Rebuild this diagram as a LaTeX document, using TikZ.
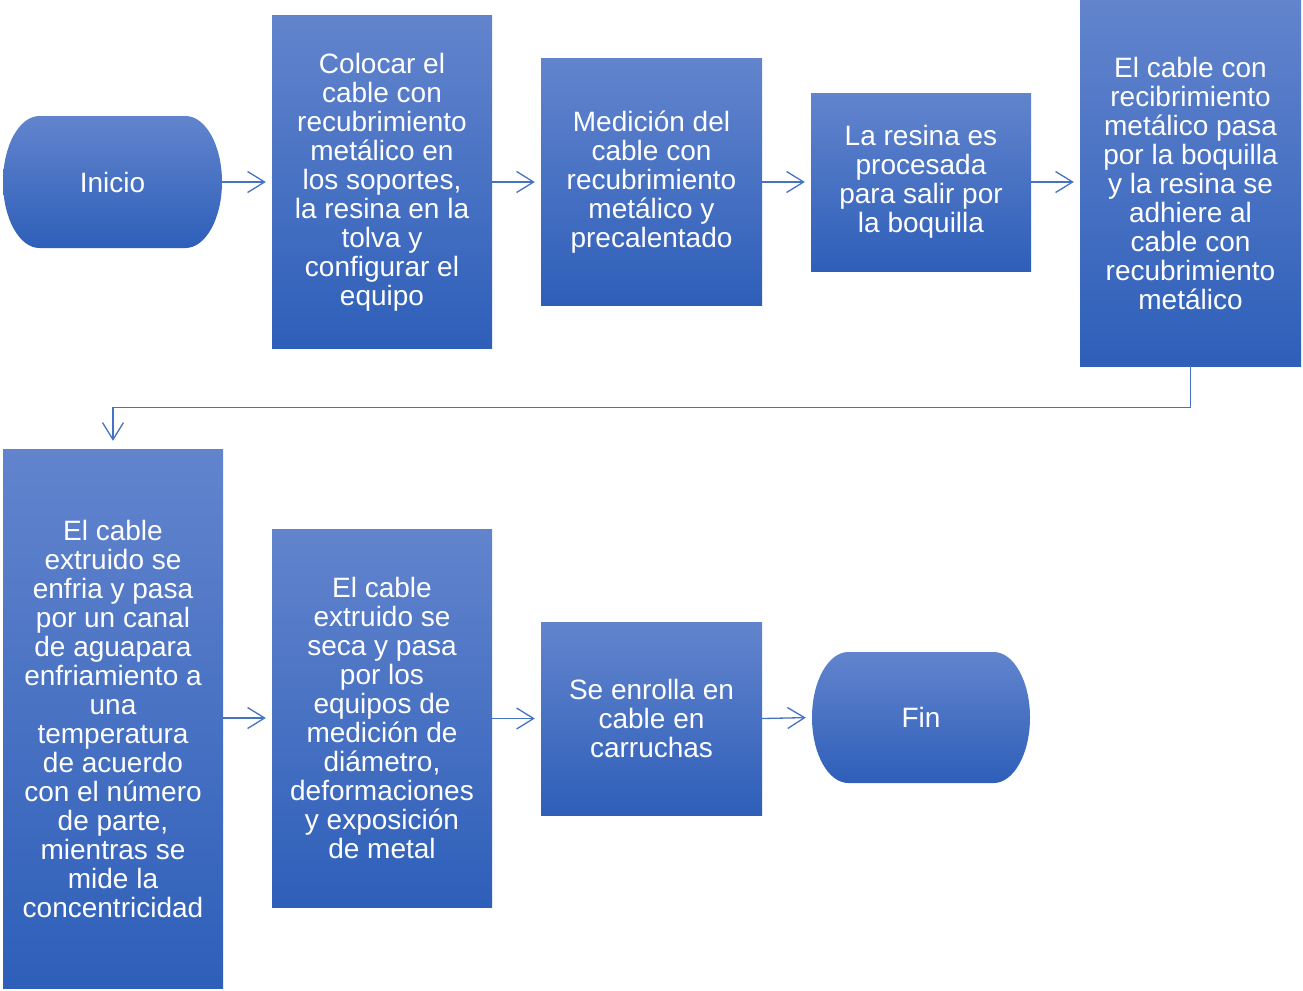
\documentclass[tikz,border=0pt]{standalone}
\usepackage{fontspec}
\setmainfont{Liberation Sans}
\usetikzlibrary{arrows.meta}
\definecolor{boxtop}{RGB}{98,132,205}
\definecolor{boxbot}{RGB}{46,95,185}
\definecolor{linkblue}{RGB}{68,114,196}
\begin{document}
\begin{tikzpicture}[x=1pt,y=-1pt,
  txt/.style={text=white,align=center,inner sep=0pt,
    font=\fontsize{28}{29}\selectfont},
  stepbox/.style={txt,top color=boxtop,bottom color=boxbot,draw=none,
    minimum width=220pt},
  link/.style={draw=linkblue,line width=1.3pt,
    -{Straight Barb[length=17pt,width=21pt,line width=1.3pt]},shorten >=6pt}
]
\useasboundingbox (0,0) rectangle (1303,990);

% terminator outline: flat top and bottom, half-ellipse ends
\newcommand{\terminal}[4]{% x1, y1, x2, y2
  \pgfmathsetmacro{\rx}{(#3-#1)/6}
  \pgfmathsetmacro{\ry}{(#4-#2)/2}
  \shade[top color=boxtop,bottom color=boxbot]
    (#1+\rx,#2) -- (#3-\rx,#2)
    arc[start angle=90,end angle=-90,x radius=\rx,y radius=-\ry]
    -- (#1+\rx,#4)
    arc[start angle=270,end angle=90,x radius=\rx,y radius=-\ry] -- cycle;}

% first row
\terminal{3}{116}{222}{248}
\node[txt,minimum width=219pt,minimum height=132pt] (ini) at (112.5,182) {Inicio};
\node[stepbox,minimum height=332pt] (b1) at (382,182)
  {Colocar el\\cable con\\recubrimiento\\metálico en\\los soportes,\\la resina en la\\tolva y\\configurar el\\equipo};
\node[stepbox,minimum width=221pt,minimum height=246pt] (b2) at (651.5,182)
  {Medición del\\cable con\\recubrimiento\\metálico y\\precalentado};
\node[stepbox,minimum height=178pt] (b3) at (921,182)
  {La resina es\\procesada\\para salir por\\la boquilla};
\node[stepbox,minimum width=221pt,minimum height=365pt] (b4) at (1190.5,183.5)
  {El cable con\\recibrimiento\\metálico pasa\\por la boquilla\\y la resina se\\adhiere al\\cable con\\recubrimiento\\metálico};

% second row
\node[stepbox,minimum height=539pt] (b5) at (113,718.5)
  {El cable\\extruido se\\enfria y pasa\\por un canal\\de aguapara\\enfriamiento a\\una\\temperatura\\de acuerdo\\con el número\\de parte,\\mientras se\\mide la\\concentricidad};
\node[stepbox,minimum height=378pt] (b6) at (382,718)
  {El cable\\extruido se\\seca y pasa\\por los\\equipos de\\medición de\\diámetro,\\deformaciones\\y exposición\\de metal};
\node[stepbox,minimum width=221pt,minimum height=193pt] (b7) at (651.5,718.5)
  {Se enrolla en\\cable en\\carruchas};
\terminal{812}{652}{1030}{783}
\node[txt,minimum width=218pt,minimum height=131pt] (fin) at (921,717.5) {Fin};

% connectors
\draw[link] (ini.east) -- (b1.west);
\draw[link] (b1.west -| b1.east) -- (b2.west |- b1.west);
\draw[link] (b2.east) -- (b3.west);
\draw[link] (b3.east) -- (b4.west |- b3.east);
\draw[link,shorten >=8pt] (b4.south) -- ++(0,41) -| (b5.north);
\draw[link] (b5.east |- b6.west) -- (b6.west);
\draw[link] (b6.east |- b7.west) -- (b7.west);
\draw[link] (b7.east) -- (fin.west);
\end{tikzpicture}
\end{document}
